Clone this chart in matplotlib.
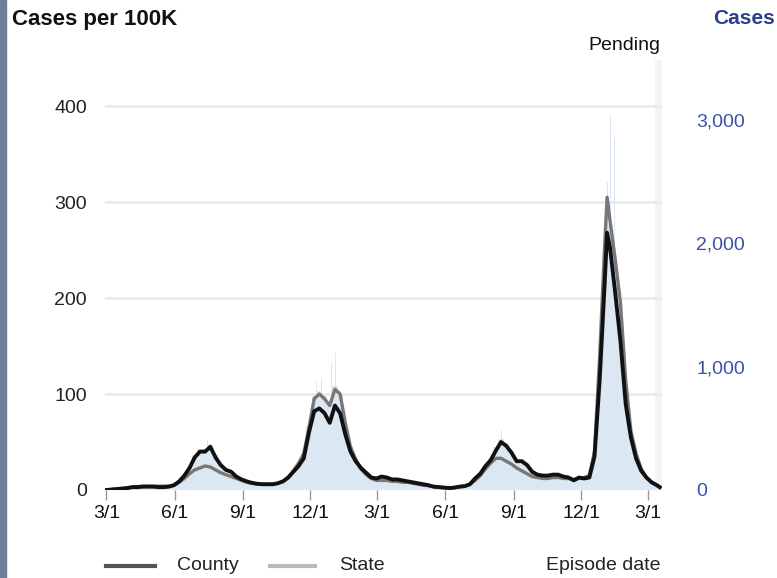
import matplotlib
matplotlib.use("Agg")
import matplotlib.pyplot as plt
from matplotlib.lines import Line2D
from matplotlib.patches import Rectangle
import numpy as np
import pandas as pd

# ---------------- data ----------------
start_date = "2020-03-01"          # weekly samples, 7-day averages
county_weekly = [0, 0.5, 1, 1.5, 2, 3, 3, 3.5, 3.5, 3.5, 3, 3, 3.5, 5, 9, 15, 23, 34, 40, 40,
                 45, 34, 26, 21, 19, 14, 11, 9, 7.5, 6.5, 6, 6, 6, 7, 9, 13, 19, 25, 33, 60,
                 82, 85, 80, 70, 88, 80, 58, 40, 30, 23, 18, 13, 12, 14, 13, 11, 11, 10, 9, 8,
                 7, 6, 5, 3.5, 3, 2.5, 2, 2.5, 3.5, 4, 6, 12, 17, 25, 31, 41, 50, 46, 39, 30,
                 30, 26, 19, 16, 15, 15, 16, 16, 14, 13, 10, 13, 12, 13, 35, 115, 220, 252, 205, 155,
                 90, 55, 33, 20, 13, 8, 5]
state_weekly = [0, 0.5, 1, 1.5, 2, 3, 3.5, 4, 4, 4, 4, 4, 4, 5, 8, 12, 17, 21, 23, 25,
                24, 21, 18, 16, 14, 12, 10, 8, 7, 6, 6, 6, 6, 7, 9, 13, 20, 28, 38, 65,
                95, 100, 95, 88, 105, 100, 70, 45, 32, 22, 16, 12, 10, 10, 10, 9, 9, 8, 8, 7,
                6, 5, 4.5, 3.5, 3, 2.5, 2, 2.5, 3.5, 4, 6, 10, 15, 22, 28, 33, 33, 30, 27, 23,
                20, 17, 14, 13, 12, 12, 13, 13, 12, 12, 11, 12, 13, 15, 40, 140, 260, 280, 240, 195,
                115, 62, 38, 22, 13, 8, 5]
cases_weekly = [2, 4, 8, 12, 16, 24, 25, 28, 29, 28, 25, 26, 30, 42, 75, 125, 190, 280, 330, 335,
                370, 285, 215, 175, 155, 118, 92, 75, 62, 54, 50, 50, 50, 58, 75, 108, 160, 215, 290, 520,
                760, 800, 760, 690, 840, 770, 520, 350, 250, 190, 145, 105, 95, 115, 108, 90, 90, 82, 75, 66,
                58, 50, 40, 29, 25, 20, 17, 20, 29, 33, 50, 98, 140, 205, 260, 345, 410, 380, 320, 250,
                248, 212, 158, 132, 125, 125, 132, 130, 116, 108, 85, 105, 100, 110, 300, 1000, 1900, 2150, 1700, 1280,
                750, 440, 270, 165, 105, 65, 40]
extra_dates = ["2022-01-05", "2022-03-17"]
extra_county = [268, 3]
extra_state = [305, 3]
spike_dates = ["2020-07-15", "2020-12-09", "2020-12-16", "2020-12-29", "2021-01-04",
               "2021-08-16", "2022-01-05", "2022-01-09", "2022-01-15"]
spike_cases = [405, 875, 905, 1030, 1110, 486, 2500, 3050, 2850]
pending_start = "2022-03-11"
cases_per_unit = 7.787   # cases per "per 100K" unit (county population / 100K)

xtick_dates = ["2020-03-01", "2020-06-01", "2020-09-01", "2020-12-01", "2021-03-01",
               "2021-06-01", "2021-09-01", "2021-12-01", "2022-03-01"]
xtick_labels = ["3/1", "6/1", "9/1", "12/1", "3/1", "6/1", "9/1", "12/1", "3/1"]
left_ticks = [0, 100, 200, 300, 400]
right_ticks = [0, 1000, 2000, 3000]
right_labels = ["0", "1,000", "2,000", "3,000"]

# ---------------- assemble ----------------
weekly_dates = pd.date_range(start_date, periods=len(county_weekly), freq="7D")
line_df = pd.DataFrame({
    "date": list(weekly_dates) + list(pd.to_datetime(extra_dates)),
    "county": county_weekly + extra_county,
    "state": state_weekly + extra_state,
}).sort_values("date")

plt.rcParams["font.family"] = ["Liberation Sans", "DejaVu Sans"]

W, H = 777, 578
fig = plt.figure(figsize=(W / 100, H / 100), dpi=100)
fig.patches.append(Rectangle((0, 0), 6 / W, 1, transform=fig.transFigure,
                             color="#6c8199", zorder=0))

ax = fig.add_axes([105 / W, 88 / H, 557 / W, 430 / H])
ax.set_xlim(pd.Timestamp("2020-02-28"), pd.Timestamp("2022-03-20"))
ax.set_ylim(0, 448)

bar_col = "#dce7f4"
ax.bar(weekly_dates, np.array(cases_weekly) / cases_per_unit, width=7,
       color=bar_col, linewidth=0, zorder=1)
ax.bar(pd.to_datetime(spike_dates), np.array(spike_cases) / cases_per_unit, width=1.3,
       color=bar_col, linewidth=0, zorder=1)
ax.axvspan(pd.Timestamp(pending_start), pd.Timestamp("2022-03-20"),
           color="#f5f5f5", zorder=0.5, linewidth=0)

ax.plot(line_df["date"], line_df["state"], color="#777777", lw=2.4, zorder=3,
        solid_joinstyle="round")
ax.plot(line_df["date"], line_df["county"], color="#111111", lw=2.8, zorder=4,
        solid_joinstyle="round")

ax.set_axisbelow(True)
ax.yaxis.grid(True, color="#ebebeb", lw=2)
ax.set_yticks(left_ticks)
for s in ax.spines.values():
    s.set_visible(False)
ax.tick_params(axis="y", length=0, pad=13, labelsize=14, labelcolor="#222222")
ax.set_xticks(pd.to_datetime(xtick_dates))
ax.set_xticklabels(xtick_labels)
ax.tick_params(axis="x", length=7, width=1, color="#999999", pad=4, labelsize=14,
               labelcolor="#111111")

sec = ax.secondary_yaxis("right", functions=(lambda v: v * cases_per_unit,
                                             lambda c: c / cases_per_unit))
sec.set_yticks(right_ticks)
sec.set_yticklabels(right_labels)
sec.tick_params(length=0, pad=24.5, labelsize=14, labelcolor="#3a52a6")
for s in sec.spines.values():
    s.set_visible(False)

# titles
fig.text(12 / W, 1 - 19 / H, "Cases per 100K", fontsize=16, fontweight="bold",
         va="center", ha="left", color="#111111")
fig.text(775 / W, 1 - 19 / H, "Cases", fontsize=15, fontweight="bold",
         va="center", ha="right", color="#2b3f8e")
fig.text(660 / W, 1 - 45 / H, "Pending", fontsize=14, va="center", ha="right",
         color="#111111")

# legend
ly = 1 - 566 / H
fig.add_artist(Line2D([106 / W, 155 / W], [ly, ly], color="#555555", lw=3,
                      transform=fig.transFigure))
fig.text(177 / W, ly, "County", fontsize=14, va="center", ha="left", color="#222222")
fig.add_artist(Line2D([270 / W, 315 / W], [ly, ly], color="#bbbbbb", lw=3,
                      transform=fig.transFigure))
fig.text(339 / W, ly, "State", fontsize=14, va="center", ha="left", color="#222222")
fig.text(660 / W, ly, "Episode date", fontsize=14, va="center", ha="right",
         color="#222222")

fig.savefig("out.png", dpi=100)
